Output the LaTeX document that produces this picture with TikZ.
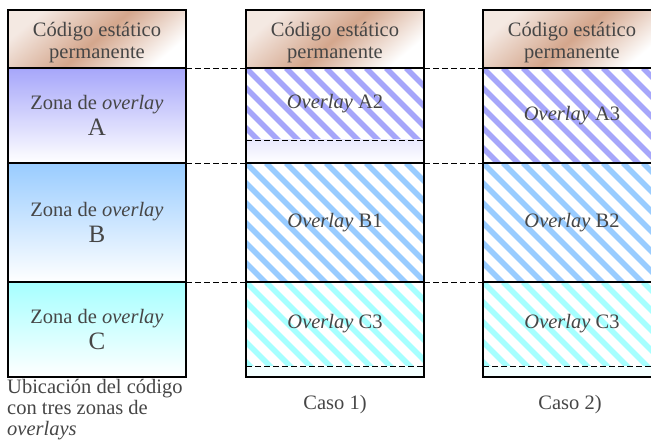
\documentclass[tikz,border=0pt]{standalone}
\usepackage{fontspec}
\setmainfont{Liberation Serif}
\definecolor{brownc}{RGB}{212,166,140}
\definecolor{za}{RGB}{166,166,250}
\definecolor{zb}{RGB}{153,204,255}
\definecolor{zc}{RGB}{166,255,255}
\definecolor{txtc}{RGB}{70,70,70}
\begin{document}
\begin{tikzpicture}[x=1pt,y=-1pt,
  cell/.style={minimum width=178pt, outer sep=0pt, inner sep=0pt, anchor=north west, align=center,
    font=\fontsize{20.5}{20}\selectfont, text=txtc},
  copper/.style={cell, minimum height=58pt, shade, top color=brownc!25, bottom color=white, middle color=brownc, shading angle=40},
  ctext/.style={align=center, inner sep=0pt, font=\fontsize{20.5}{22}\selectfont, text=txtc, yshift=-4pt},
  grad/.style={cell, shade, top color=#1, bottom color=white},
  hatch/.style={cell, fill=white, path picture={
      \foreach \k in {-240,-220,...,260}{
        \draw[#1, line width=5.5pt] ([xshift=\k pt]path picture bounding box.north west) -- ++(300pt,-300pt);}}},
  frame/.style={draw=black, line width=1.6pt},
  divider/.style={draw=black, line width=1.1pt},
  dashline/.style={draw=black, line width=0.9pt, dash pattern=on 6pt off 3pt},
  lbl/.style={font=\fontsize{20.5}{21}\selectfont, text=txtc}
]
\useasboundingbox (0,0) rectangle (651,441);
\clip (0,0) rectangle (651,441);

% left column
\node[copper] (L0) at (8,10) {};
\node[ctext] (L0t) at (L0.center) {Código estático\\permanente};
\node[grad=za, minimum height=95pt] (LA) at (8,68) {Zona de \textit{overlay}\\[4pt]{\fontsize{25}{26}\selectfont A}};
\node[grad=zb, minimum height=119pt] (LB) at (8,163) {Zona de \textit{overlay}\\[4pt]{\fontsize{25}{26}\selectfont B}};
\node[grad=zc, minimum height=95pt] (LC) at (8,282) {Zona de \textit{overlay}\\[4pt]{\fontsize{25}{26}\selectfont C}};

% case 1
\node[copper] (M0) at (246,10) {};
\node[ctext] (M0t) at (M0.center) {Código estático\\permanente};
\node[hatch=za, minimum height=72pt] (MA) at (246,68) {\textit{Overlay} A2};
\node[grad=za!25, minimum height=23pt] (MAr) at (246,140) {};
\node[hatch=zb, minimum height=119pt] (MB) at (246,163) {\textit{Overlay} B1};
\node[hatch=zc, minimum height=84pt] (MC) at (246,282) {\textit{Overlay} C3};
\node[cell, fill=zc!12, minimum height=11pt] (MCr) at (246,366) {};

% case 2
\node[copper] (R0) at (483,10) {};
\node[ctext] (R0t) at (R0.center) {Código estático\\permanente};
\node[hatch=za, minimum height=95pt] (RA) at (483,68) {\textit{Overlay} A3};
\node[hatch=zb, minimum height=119pt] (RB) at (483,163) {\textit{Overlay} B2};
\node[hatch=zc, minimum height=84pt] (RC) at (483,282) {\textit{Overlay} C3};
\node[cell, fill=zc!12, minimum height=11pt] (RCr) at (483,366) {};

% dividers
\draw[divider] (L0.south west) -- (L0.south east);
\draw[divider] (LA.south west) -- (LA.south east);
\draw[divider] (LB.south west) -- (LB.south east);
\draw[divider] (M0.south west) -- (M0.south east);
\draw[divider] (MB.north west) -- (MB.north east);
\draw[divider] (MB.south west) -- (MB.south east);
\draw[divider] (R0.south west) -- (R0.south east);
\draw[divider] (RB.north west) -- (RB.north east);
\draw[divider] (RB.south west) -- (RB.south east);

% internal dashed lines
\draw[dashline] (MA.south west) -- (MA.south east);
\draw[dashline] (MC.south west) -- (MC.south east);
\draw[dashline] (RC.south west) -- (RC.south east);

% frames
\draw[frame] (L0.north west) rectangle (LC.south east);
\draw[frame] (M0.north west) rectangle (MCr.south east);
\draw[frame] (R0.north west) rectangle (RCr.south east);

% dashed connectors
\draw[dashline] (L0.south east) -- (M0.south west);
\draw[dashline] (LA.south east) -- (MB.north west);
\draw[dashline] (LB.south east) -- (MC.north west);
\draw[dashline] (M0.south east) -- (R0.south west);
\draw[dashline] (MB.north east) -- (RB.north west);
\draw[dashline] (MC.north east) -- (RC.north west);

% captions
\node[lbl, anchor=north west, align=left, inner sep=0pt] (cap) at (7,379) {Ubicación del código\\con tres zonas de\\\textit{overlays}};
\node[lbl] (c1) at (335,405) {Caso 1)};
\node[lbl] (c2) at (570,405) {Caso 2)};
\end{tikzpicture}
\end{document}
